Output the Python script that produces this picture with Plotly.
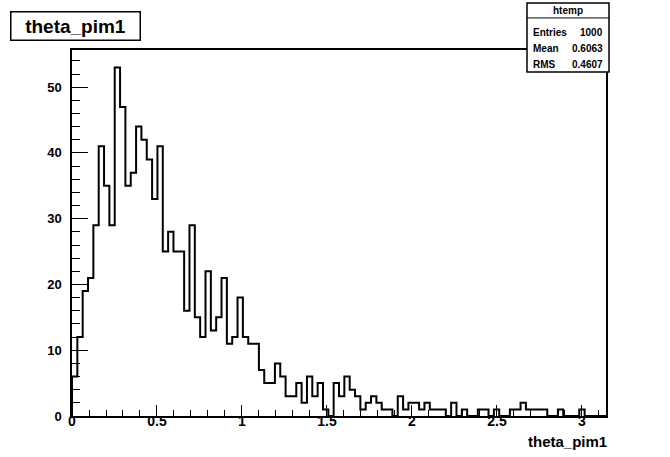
import numpy as np
import plotly.graph_objects as go

# ---- data (100 bins) ----
counts = [6, 12, 19, 21, 29, 41, 35, 29, 53, 47,
          35, 37, 44, 42, 39, 33, 41, 25, 28, 25,
          25, 16, 29, 15, 12, 22, 13, 15, 21, 11,
          12, 18, 12, 11, 11, 7, 5, 5, 8, 6,
          3, 3, 5, 2, 6, 3, 5, 1, 0, 5,
          3, 6, 4, 3, 1, 2, 3, 2, 1, 1,
          0, 3, 1, 2, 2, 1, 2, 1, 1, 1,
          0, 2, 0, 1, 0, 0, 1, 1, 0, 1,
          0, 0, 1, 1, 2, 1, 1, 1, 1, 0,
          0, 1, 0, 0, 0, 1, 0, 0, 0, 0]
x_min, x_max = 0.0, np.pi
y_max = 55.65

x_tickvals = [0, 0.5, 1, 1.5, 2, 2.5, 3]
x_ticktext = ["0", "0.5", "1", "1.5", "2", "2.5", "3"]
y_tickvals = [0, 10, 20, 30, 40, 50]
y_ticktext = ["0", "10", "20", "30", "40", "50"]

hist_title = "theta_pim1"
x_title = "theta_pim1"
stats_name = "htemp"
stats_labels = ["Entries", "Mean", "RMS"]
stats_values = ["1000", "0.6063", "0.4607"]

# ---- geometry (pixels in the 670x457 window) ----
W, H = 670, 457
L, R, T, B = 72, 606, 50, 415.6
pw, ph = R - L, B - T


def px(xp):
    return (xp - L) / pw


def py(yp):
    return (B - yp) / ph


n_bins = len(counts)
edges = np.linspace(x_min, x_max, n_bins + 1)
xs = [edges[0]] + list(edges[:-1]) + [edges[-1], edges[-1]]
ys = [0] + list(counts) + [counts[-1], 0]

fig = go.Figure()
fig.add_trace(go.Scatter(x=xs, y=ys, mode="lines", line=dict(color="black", width=2, shape="hv"),
                         hoverinfo="skip", showlegend=False))
# invisible trace so the label axis is drawn
fig.add_trace(go.Scatter(x=[x_min, x_max], y=[0, 0], xaxis="x2", mode="lines",
                         line=dict(width=0), opacity=0, hoverinfo="skip", showlegend=False))

font_family = "Liberation Sans, Arial, Helvetica, sans-serif"

fig.update_layout(
    width=W, height=H,
    margin=dict(l=L, r=W - R, t=T, b=H - B, pad=0),
    paper_bgcolor="white", plot_bgcolor="white",
    showlegend=False,
    font=dict(family=font_family, color="black"),
    xaxis=dict(range=[x_min, x_max], showgrid=False, zeroline=False,
               showline=True, linecolor="black", linewidth=1.5, mirror=True,
               ticks="inside", ticklen=11, tickwidth=1, tickcolor="black",
               tickvals=x_tickvals, showticklabels=False,
               minor=dict(ticks="inside", ticklen=6, tickwidth=1, tickcolor="black", dtick=0.1, tick0=0, showgrid=False)),
    xaxis2=dict(range=[x_min, x_max], overlaying="x", anchor="free", position=4.5 / ph, side="bottom",
                showgrid=False, zeroline=False, showline=False, ticks="",
                tickvals=x_tickvals, ticktext=x_ticktext,
                tickfont=dict(size=14, family=font_family, weight="bold")),
    yaxis=dict(range=[0, y_max], showgrid=False, zeroline=False,
               showline=True, linecolor="black", linewidth=1.5, mirror=True,
               ticks="inside", ticklen=16, tickwidth=1, tickcolor="black",
               tickvals=y_tickvals, ticktext=y_ticktext,
               tickfont=dict(size=13, family=font_family, weight="bold"),
               ticklabelstandoff=6,
               minor=dict(ticks="inside", ticklen=8, tickwidth=1, tickcolor="black", dtick=2, tick0=0, showgrid=False)),
)

annotations = []
shapes = []

# histogram title box
annotations.append(dict(xref="paper", yref="paper", x=px(75), y=py(26), xanchor="center", yanchor="middle",
                        text="<b>" + hist_title + "</b>", showarrow=False,
                        font=dict(size=19, family=font_family, color="black"),
                        bordercolor="black", borderwidth=1.5, bgcolor="white",
                        width=126, height=25))

# x-axis title
annotations.append(dict(xref="paper", yref="paper", x=px(R + 3), y=py(441), xanchor="right", yanchor="middle",
                        text="<b>" + x_title + "</b>", showarrow=False,
                        font=dict(size=15, family=font_family, color="black")))

# stats box
sx0, sx1, sy0, sy1, sep = 527, 609, 3, 72, 18
shapes.append(dict(type="rect", xref="paper", yref="paper", x0=px(sx0), x1=px(sx1), y0=py(sy1), y1=py(sy0),
                   line=dict(color="black", width=1.5), fillcolor="white", layer="above"))
shapes.append(dict(type="line", xref="paper", yref="paper", x0=px(sx0), x1=px(sx1), y0=py(sep), y1=py(sep),
                   line=dict(color="black", width=1), layer="above"))
annotations.append(dict(xref="paper", yref="paper", x=px((sx0 + sx1) / 2), y=py(10.5), xanchor="center",
                        yanchor="middle", text="<b>" + stats_name + "</b>", showarrow=False,
                        font=dict(size=10, family=font_family, color="black")))
row_y = [33, 49, 64]
for lab, val, yy in zip(stats_labels, stats_values, row_y):
    annotations.append(dict(xref="paper", yref="paper", x=px(sx0 + 4), y=py(yy), xanchor="left", yanchor="middle",
                            text="<b>" + lab + "</b>", showarrow=False,
                            font=dict(size=10, family=font_family, color="black")))
    annotations.append(dict(xref="paper", yref="paper", x=px(sx1 - 4), y=py(yy), xanchor="right", yanchor="middle",
                            text="<b>" + val + "</b>", showarrow=False,
                            font=dict(size=10, family=font_family, color="black")))

fig.update_layout(annotations=annotations, shapes=shapes)
fig.write_html("out.html", config={"displayModeBar": False},
               post_script="document.body.style.margin='0px';")
